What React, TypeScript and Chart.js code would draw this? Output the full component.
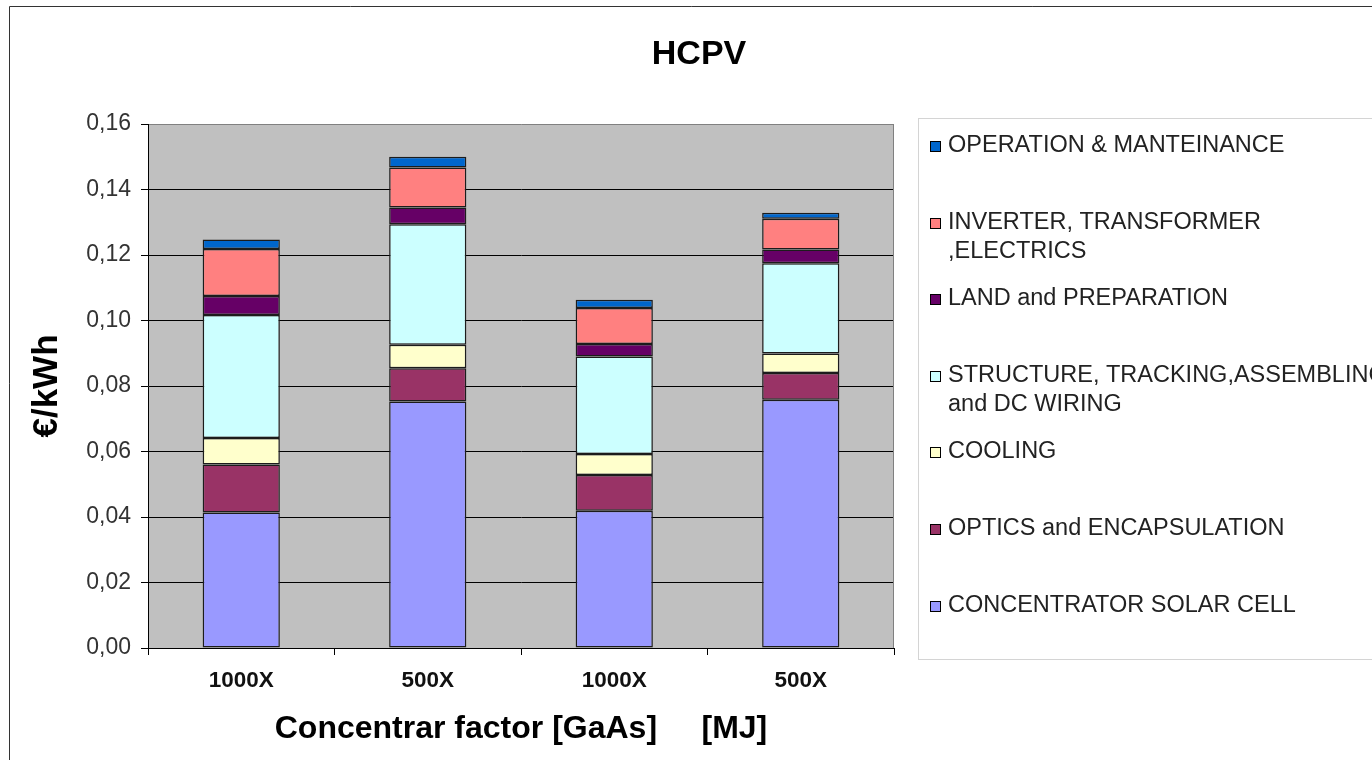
import React, { useEffect, useRef } from 'react';
import { Chart, registerables } from 'chart.js';

Chart.register(...registerables);

// ---- data ----
const categories = ['1000X', '500X', '1000X', '500X'];

const seriesNames = [
  'CONCENTRATOR SOLAR CELL',
  'OPTICS and ENCAPSULATION',
  'COOLING',
  'STRUCTURE, TRACKING,ASSEMBLING\nand DC WIRING',
  'LAND and PREPARATION',
  'INVERTER, TRANSFORMER\n,ELECTRICS',
  'OPERATION & MANTEINANCE',
];

const cellValues = [0.0414, 0.0753, 0.0419, 0.0758];
const opticsValues = [0.0146, 0.0101, 0.0109, 0.0082];
const coolingValues = [0.0081, 0.0072, 0.0064, 0.0059];
const structureValues = [0.0376, 0.0368, 0.0298, 0.0276];
const landValues = [0.0058, 0.0051, 0.0038, 0.0042];
const inverterValues = [0.0143, 0.0122, 0.011, 0.0094];
const omValues = [0.0029, 0.0033, 0.0025, 0.0018];

const seriesColors = ['#9999FF', '#993366', '#FFFFCC', '#CCFFFF', '#660066', '#FF8080', '#0066CC'];

const yTickLabels = ['0,00', '0,02', '0,04', '0,06', '0,08', '0,10', '0,12', '0,14', '0,16'];

const chartTitle = 'HCPV';
const xTitle = 'Concentrar factor [GaAs]     [MJ]';
const yTitle = '€/kWh';

const FONT = '"Liberation Sans", Arial, sans-serif';

const framePlugin = {
  id: 'frameAndTitle',
  beforeDraw(chart: any) {
    const { ctx, chartArea } = chart;
    ctx.save();
    ctx.fillStyle = '#ffffff';
    ctx.fillRect(0, 0, chart.width, chart.height);
    // outer frame
    ctx.strokeStyle = '#333333';
    ctx.lineWidth = 1;
    ctx.beginPath();
    ctx.moveTo(9.5, chart.height + 2);
    ctx.lineTo(9.5, 6.5);
    ctx.lineTo(chart.width + 2, 6.5);
    ctx.stroke();
    // plot background
    ctx.fillStyle = '#C0C0C0';
    ctx.fillRect(chartArea.left, chartArea.top, chartArea.right - chartArea.left, chartArea.bottom - chartArea.top);
    // title
    ctx.fillStyle = '#000000';
    ctx.font = `bold 34px ${FONT}`;
    ctx.textAlign = 'center';
    ctx.textBaseline = 'alphabetic';
    ctx.fillText(chartTitle, 699, 64);
    ctx.restore();
  },
  beforeDatasetsDraw(chart: any) {
    const { ctx, chartArea } = chart;
    ctx.save();
    ctx.strokeStyle = '#808080';
    ctx.lineWidth = 1;
    ctx.beginPath();
    ctx.moveTo(Math.round(chartArea.right) - 0.5, chartArea.top);
    ctx.lineTo(Math.round(chartArea.right) - 0.5, chartArea.bottom);
    ctx.stroke();
    ctx.restore();
  },
  afterDraw(chart: any) {
    const { ctx } = chart;
    ctx.save();
    ctx.strokeStyle = '#d4d4d4';
    ctx.lineWidth = 1;
    ctx.strokeRect(918.5, 118.5, 700, 541);
    ctx.font = `23.5px ${FONT}`;
    ctx.textAlign = 'left';
    ctx.textBaseline = 'alphabetic';
    const ds = chart.data.datasets.slice().reverse();
    ds.forEach((d: any, i: number) => {
      const base = Math.round(152 + i * 76.6);
      ctx.fillStyle = d.backgroundColor;
      ctx.fillRect(930.5, base - 10.5, 10, 10);
      ctx.strokeStyle = '#000000';
      ctx.strokeRect(930.5, base - 10.5, 10, 10);
      ctx.fillStyle = '#222222';
      String(d.label).split('\n').forEach((line: string, j: number) => {
        ctx.fillText(line, 948, base + j * 28.5);
      });
    });
    ctx.restore();
  },
};

export default function App() {
  const ref = useRef<HTMLCanvasElement | null>(null);

  useEffect(() => {
    if (!ref.current) return;
    const allValues = [cellValues, opticsValues, coolingValues, structureValues, landValues, inverterValues, omValues];
    const chart = new Chart(ref.current, {
      type: 'bar',
      data: {
        labels: categories,
        datasets: allValues.map((vals, i) => ({
          label: seriesNames[i],
          data: vals,
          backgroundColor: seriesColors[i],
          borderColor: '#1c1c1c',
          borderWidth: 1.5,
          borderSkipped: false,
          barPercentage: 0.414,
          categoryPercentage: 1,
        })),
      },
      options: {
        responsive: false,
        animation: false,
        devicePixelRatio: 1,
        layout: { padding: { top: 124, right: 478, bottom: 0, left: 0 } },
        plugins: {
          legend: { display: false },
          tooltip: { enabled: false },
          title: { display: false },
        },
        scales: {
          x: {
            stacked: true,
            afterFit: (scale: any) => {
              scale.height = 112;
            },
            grid: {
              display: true,
              drawOnChartArea: false,
              drawTicks: true,
              tickLength: 7,
              color: '#000000',
              offset: true,
            },
            border: { display: true, color: '#000000', width: 1 },
            ticks: {
              color: '#111111',
              padding: 12,
              font: { family: FONT, size: 22.5, weight: 'bold' },
            },
            title: {
              display: true,
              text: xTitle,
              color: '#000000',
              font: { family: FONT, size: 32, weight: 'bold' },
              padding: { top: 0, bottom: 12 },
            },
          },
          y: {
            stacked: true,
            min: 0,
            max: 0.16,
            afterFit: (scale: any) => {
              scale.width = 148;
            },
            grid: {
              color: (c: any) => (c.tick && c.tick.value > 0.159 ? '#808080' : '#000000'),
              tickColor: '#000000',
              tickLength: 7,
              lineWidth: 1,
            },
            border: { display: true, color: '#000000', width: 1 },
            ticks: {
              stepSize: 0.02,
              color: '#333333',
              padding: 10,
              font: { family: FONT, size: 23 },
              callback: (_v: any, i: number) => yTickLabels[i],
            },
            title: {
              display: true,
              text: yTitle,
              color: '#000000',
              font: { family: FONT, size: 35, weight: 'bold' },
              padding: { top: 26, bottom: 0 },
            },
          },
        },
      },
      plugins: [framePlugin],
    });
    return () => chart.destroy();
  }, []);

  return (
    <div style={{ position: 'fixed', left: 0, top: 0, width: 1372, height: 760, overflow: 'hidden', background: '#fff' }}>
      <canvas ref={ref} width={1372} height={760} style={{ width: 1372, height: 760, display: 'block' }} />
    </div>
  );
}
